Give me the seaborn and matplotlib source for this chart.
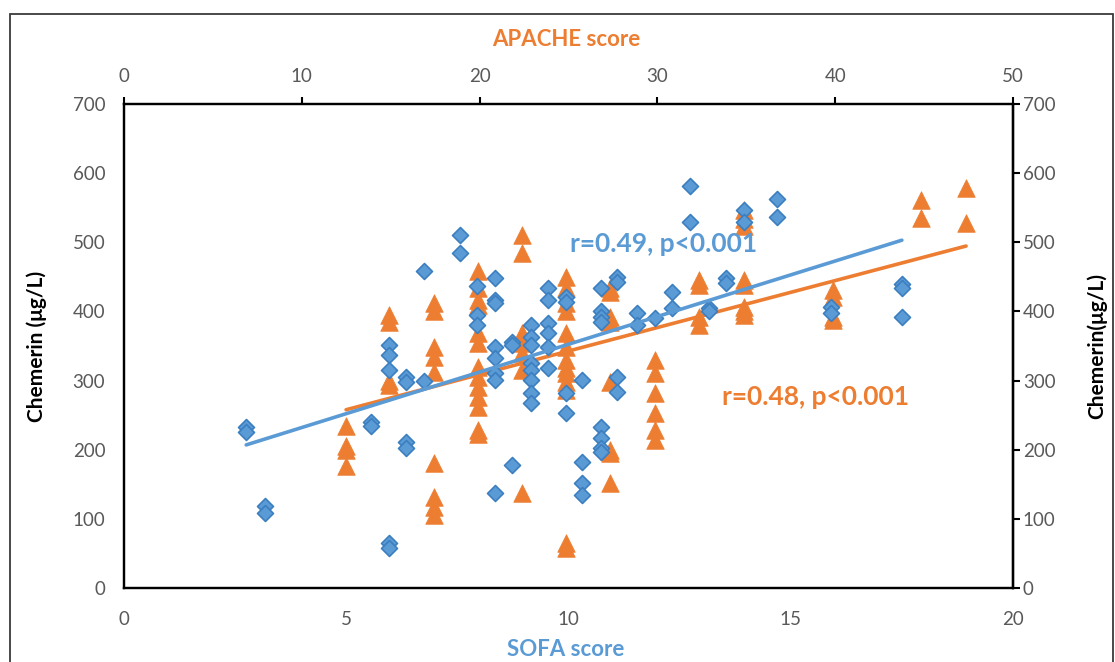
import numpy as np
import pandas as pd
import matplotlib
matplotlib.use("Agg")
import matplotlib.pyplot as plt
from matplotlib.patches import Rectangle
import seaborn as sns

# ---------------- data ----------------
sofa_score = [2.75, 2.75, 3.17, 3.17,
              5.55, 5.55,
              5.96, 5.96, 5.96, 5.96, 5.96,
              6.35, 6.35, 6.35, 6.35,
              6.76, 6.76,
              7.55, 7.55,
              7.95, 7.95, 7.95,
              8.35, 8.35, 8.35, 8.35, 8.35, 8.35, 8.35, 8.35,
              8.74, 8.74, 8.74,
              9.16, 9.16, 9.16, 9.16, 9.16, 9.16, 9.16, 9.16,
              9.55, 9.55, 9.55, 9.55, 9.55, 9.55,
              9.95, 9.95, 9.95, 9.95,
              10.3, 10.3, 10.3, 10.3,
              10.73, 10.73, 10.73, 10.73, 10.73, 10.73, 10.73, 10.73,
              11.1, 11.1, 11.1, 11.1,
              11.54, 11.54,
              11.95,
              12.33, 12.33,
              12.73, 12.73,
              13.15, 13.15,
              13.54, 13.54,
              13.94, 13.94,
              14.7, 14.7,
              15.9, 15.9,
              17.5, 17.5, 17.5]
sofa_chemerin = [233, 226, 119, 108,
                 240, 235,
                 352, 337, 315, 65, 58,
                 305, 298, 211, 203,
                 458, 299,
                 511, 485,
                 437, 395, 381,
                 448, 417, 412, 349, 333, 311, 301, 137,
                 356, 352, 178,
                 381, 363, 352, 325, 315, 301, 282, 268,
                 434, 417, 383, 369, 349, 318,
                 421, 414, 282, 253,
                 301, 182, 152, 135,
                 434, 400, 392, 385, 233, 217, 203, 197,
                 450, 443, 305, 284,
                 398, 381,
                 391,
                 428, 405,
                 581, 530,
                 405, 400,
                 448, 441,
                 547, 530,
                 563, 537,
                 407, 398,
                 440, 434, 392]

apache_score = [12.49, 12.49, 12.49, 12.49,
                14.9, 14.9, 14.9, 14.9,
                17.44, 17.44, 17.44, 17.44, 17.44, 17.44, 17.44, 17.44, 17.44,
                19.9, 19.9, 19.9, 19.9, 19.9, 19.9, 19.9, 19.9, 19.9, 19.9, 19.9, 19.9, 19.9,
                22.4, 22.4, 22.4, 22.4, 22.4, 22.4, 22.4,
                24.86, 24.86, 24.86, 24.86, 24.86, 24.86, 24.86, 24.86, 24.86, 24.86, 24.86, 24.86, 24.86,
                27.33, 27.33, 27.33, 27.33, 27.33, 27.33, 27.33, 27.33,
                29.87, 29.87, 29.87, 29.87, 29.87, 29.87,
                32.34, 32.34, 32.34, 32.34,
                34.87, 34.87, 34.87, 34.87, 34.87, 34.87, 34.87, 34.87,
                39.88, 39.88, 39.88, 39.88,
                44.83, 44.83,
                47.36, 47.36]
apache_chemerin = [234, 205, 200, 176,
                   395, 385, 300, 294,
                   412, 400, 349, 334, 313, 181, 132, 117, 106,
                   458, 434, 417, 410, 369, 355, 320, 305, 291, 276, 262, 229, 223,
                   511, 485, 369, 355, 340, 315, 137,
                   450, 434, 412, 400, 369, 349, 330, 318, 311, 298, 287, 65, 58,
                   434, 428, 392, 385, 298, 200, 195, 152,
                   330, 311, 282, 253, 229, 214,
                   446, 438, 392, 381,
                   547, 533, 523, 446, 438, 407, 400, 395,
                   431, 421, 392, 388,
                   561, 535,
                   579, 528]

# trend lines (intercept, slope)
sofa_fit = [151.8, 20.07]
apache_fit = [173.0, 6.79]

sofa_label = "r=0.49, p<0.001"
apache_label = "r=0.48, p<0.001"
y_ticks = [0, 100, 200, 300, 400, 500, 600, 700]
sofa_ticks = [0, 5, 10, 15, 20]
apache_ticks = [0, 10, 20, 30, 40, 50]

# ---------------- style ----------------
sns.set_style("white")
FAM = ["Lato", "DejaVu Sans"]
plt.rcParams["font.family"] = FAM

BLUE = "#5B9BD5"
BLUE_EDGE = "#3C7FC0"
ORANGE = "#ED7D31"
GREY = "#595959"

df_s = pd.DataFrame({"score": sofa_score, "chemerin": sofa_chemerin})
df_a = pd.DataFrame({"score": apache_score, "chemerin": apache_chemerin})

fig = plt.figure(figsize=(11.15, 6.62), dpi=100)
ax = fig.add_axes([124 / 1115, 1 - 588 / 662, (1013 - 124) / 1115, (588 - 104) / 662])
ax2 = ax.twiny()

# orange (APACHE) on top axis
sns.scatterplot(data=df_a, x="score", y="chemerin", ax=ax2, marker="^", s=160,
                color=ORANGE, edgecolor=ORANGE, linewidth=0.5, zorder=2)
xa = np.array([min(apache_score), max(apache_score)])
sns.lineplot(x=xa, y=apache_fit[0] + apache_fit[1] * xa, ax=ax2, color=ORANGE,
             linewidth=2.6, zorder=3)

# blue (SOFA) on bottom axis
sns.scatterplot(data=df_s, x="score", y="chemerin", ax=ax, marker="D", s=66,
                color=BLUE, edgecolor=BLUE_EDGE, linewidth=1.2, zorder=2)
xs = np.array([min(sofa_score), max(sofa_score)])
sns.lineplot(x=xs, y=sofa_fit[0] + sofa_fit[1] * xs, ax=ax, color=BLUE,
             linewidth=2.6, zorder=3)

ax.set_zorder(ax2.get_zorder() + 1)
ax.patch.set_visible(False)

ax.set_xlim(0, 20)
ax.set_ylim(0, 700)
ax2.set_xlim(0, 50)
ax.set_xticks(sofa_ticks)
ax.set_yticks(y_ticks)
ax2.set_xticks(apache_ticks)
ax.set_xlabel("")
ax.set_ylabel("")
ax2.set_xlabel("")
ax2.set_ylabel("")

for a in (ax, ax2):
    for sp in a.spines.values():
        sp.set_color("black")
        sp.set_linewidth(1.6)
        sp.set_visible(True)

ax.tick_params(axis="x", bottom=False, top=False, labelsize=13.5, labelcolor=GREY, pad=13)
ax.tick_params(axis="y", left=False, right=False, labelsize=13.5, labelcolor=GREY, pad=10)
ax2.tick_params(axis="x", top=True, bottom=False, direction="out", length=5, width=1.5,
                color="black", labelsize=13.5, labelcolor=GREY, pad=9)

sec = ax.secondary_yaxis("right")
sec.set_yticks(y_ticks)
sec.tick_params(axis="y", direction="out", length=5, width=1.5, color="black",
                labelsize=13.5, labelcolor=GREY, pad=2)
sec.spines["right"].set_linewidth(1.6)
sec.spines["right"].set_color("black")

# titles
fig.text(566 / 1115, 1 - 40 / 662, "APACHE score", color=ORANGE, fontsize=16,
         fontweight="bold", ha="center", va="center", family=FAM)
fig.text(566 / 1115, 1 - 650 / 662, "SOFA score", color=BLUE, fontsize=16,
         fontweight="bold", ha="center", va="center", family=FAM)
fig.text(37 / 1115, 1 - 346 / 662, "Chemerin (μg/L)", color="black", fontsize=15,
         fontweight="bold", ha="center", va="center", rotation=90, family=FAM)
fig.text(1097 / 1115, 1 - 346 / 662, "Chemerin(μg/L)", color="black", fontsize=15,
         fontweight="bold", ha="center", va="center", rotation=90, family=FAM)

# annotations
fig.text(570 / 1115, 1 - 244 / 662, sofa_label, color=BLUE, fontsize=19,
         fontweight="bold", ha="left", va="center", family=FAM)
fig.text(722 / 1115, 1 - 397 / 662, apache_label, color=ORANGE, fontsize=19,
         fontweight="bold", ha="left", va="center", family=FAM)

# outer chart border
fig.patches.append(Rectangle((10 / 1115, -0.01), 1103 / 1115, 1 - 14 / 662 + 0.01,
                             transform=fig.transFigure, fill=False,
                             edgecolor="#3a3a3a", linewidth=1.3))

fig.savefig("out.png", dpi=100)
